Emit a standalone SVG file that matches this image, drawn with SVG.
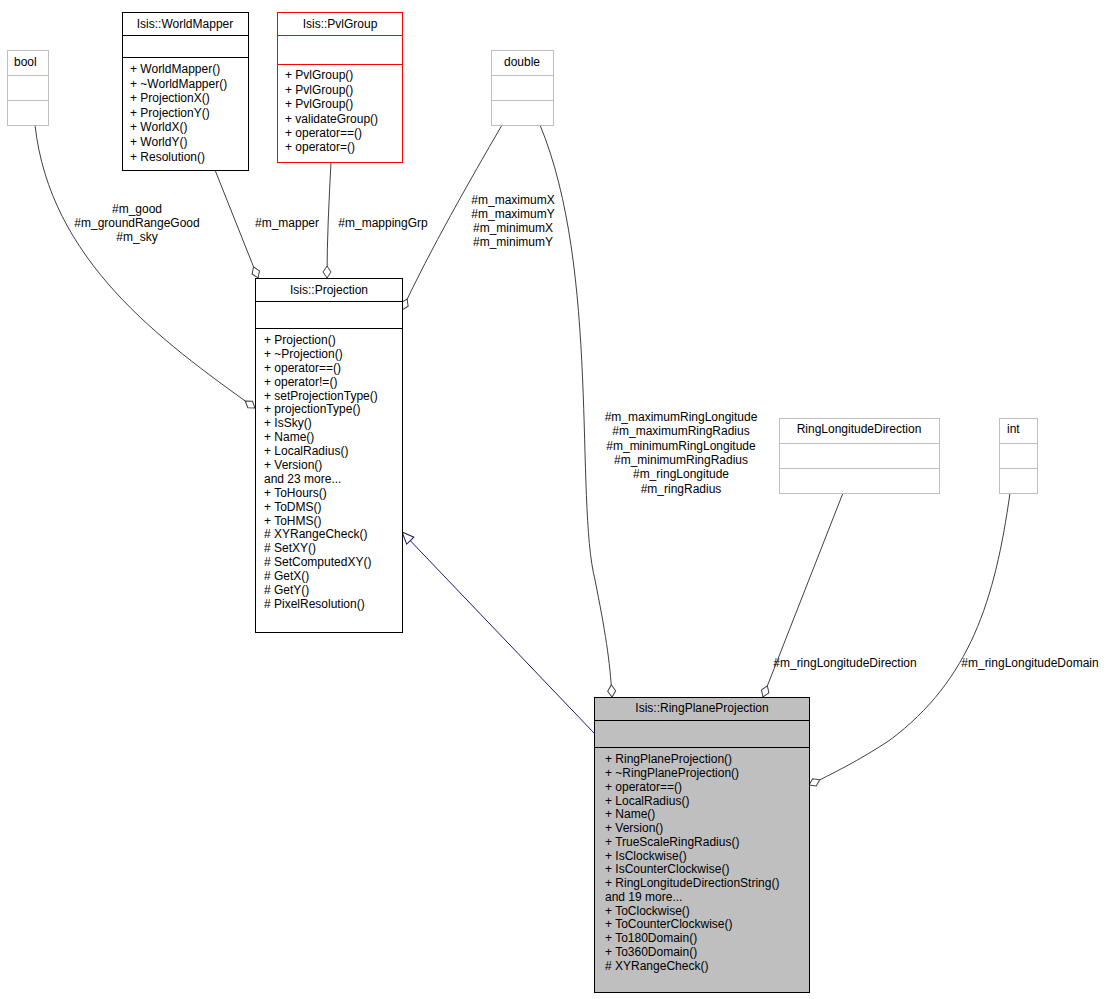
<svg xmlns="http://www.w3.org/2000/svg" width="1114" height="999" viewBox="0 0 1114 999">
<style>
text{font-family:"Liberation Sans",Arial,sans-serif;font-size:12px;fill:#000}
.c{text-anchor:middle}
.n{fill:#fff;stroke:#000;stroke-width:1}
.g{fill:#fff;stroke:#bfbfbf;stroke-width:1}
.r{fill:#fff;stroke:#ff0000;stroke-width:1}
.e{fill:none;stroke:#404040;stroke-width:1}
.i{fill:none;stroke:#191970;stroke-width:1}
</style>
<defs>
<marker id="dia" viewBox="0 0 14 10" refX="13" refY="5" markerWidth="14" markerHeight="10" markerUnits="userSpaceOnUse" orient="auto">
<path d="M1,5 L7,1 L13,5 L7,9 Z" fill="#fff" stroke="#404040"/>
</marker>
<marker id="tri" viewBox="0 0 14 12" refX="13" refY="6" markerWidth="14" markerHeight="12" markerUnits="userSpaceOnUse" orient="auto">
<path d="M1,1 L13,6 L1,11 Z" fill="#fff" stroke="#191970"/>
</marker>
</defs>
<rect width="1114" height="999" fill="#fff"/>
<g id="edges">
<path class="e" d="M35,125 C50,260 160,340 255,408" marker-end="url(#dia)"/>
<text class="c" x="137" y="213">#m_good</text>
<text class="c" x="137" y="227">#m_groundRangeGood</text>
<text class="c" x="137" y="241">#m_sky</text>
<path class="e" d="M215,170 L258,278" marker-end="url(#dia)"/>
<text class="c" x="287" y="227">#m_mapper</text>
<path class="e" d="M331,162 C329,200 327,240 327,278" marker-end="url(#dia)"/>
<text class="c" x="383" y="227">#m_mappingGrp</text>
<path class="e" d="M502,125 C470,180 430,250 402,310" marker-end="url(#dia)"/>
<text class="c" x="513" y="204">#m_maximumX</text>
<text class="c" x="513" y="218">#m_maximumY</text>
<text class="c" x="513" y="232">#m_minimumX</text>
<text class="c" x="513" y="246">#m_minimumY</text>
<path class="e" d="M540,125 C600,270 575,500 595,580 C605,630 610,660 612,697" marker-end="url(#dia)"/>
<text class="c" x="681" y="421">#m_maximumRingLongitude</text>
<text class="c" x="681" y="435">#m_maximumRingRadius</text>
<text class="c" x="681" y="450">#m_minimumRingLongitude</text>
<text class="c" x="681" y="464">#m_minimumRingRadius</text>
<text class="c" x="681" y="478">#m_ringLongitude</text>
<text class="c" x="681" y="493">#m_ringRadius</text>
<path class="i" d="M594,733 L402,532" marker-end="url(#tri)"/>
<path class="e" d="M843,493 L763,697" marker-end="url(#dia)"/>
<text class="c" x="845" y="667">#m_ringLongitudeDirection</text>
<path class="e" d="M1010,493 C995,600 970,680 890,740 C860,760 830,775 809,785" marker-end="url(#dia)"/>
<text class="c" x="1030" y="667">#m_ringLongitudeDomain</text>
</g>
<g id="bool"><rect class="g" x="7.5" y="50.5" width="41" height="75"/><line class="g" x1="7.5" y1="75.5" x2="48.5" y2="75.5"/><line class="g" x1="7.5" y1="100.5" x2="48.5" y2="100.5"/><text x="14" y="66">bool</text></g>
<g id="worldmapper"><rect class="n" x="122.5" y="12.5" width="126" height="158"/><line class="n" x1="122.5" y1="35.5" x2="248.5" y2="35.5"/><line class="n" x1="122.5" y1="57.5" x2="248.5" y2="57.5"/>
<text class="c" x="185" y="28">Isis::WorldMapper</text>
<text x="130" y="73">+ WorldMapper()</text><text x="130" y="88">+ ~WorldMapper()</text><text x="130" y="102">+ ProjectionX()</text><text x="130" y="117">+ ProjectionY()</text><text x="130" y="131">+ WorldX()</text><text x="130" y="146">+ WorldY()</text><text x="130" y="161">+ Resolution()</text></g>
<g id="pvlgroup"><rect class="r" x="277.5" y="12.5" width="125" height="150"/><line class="r" x1="277.5" y1="35.5" x2="402.5" y2="35.5"/><line class="r" x1="277.5" y1="64.5" x2="402.5" y2="64.5"/>
<text class="c" x="340" y="28">Isis::PvlGroup</text>
<text x="285" y="79">+ PvlGroup()</text><text x="285" y="94">+ PvlGroup()</text><text x="285" y="108">+ PvlGroup()</text><text x="285" y="123">+ validateGroup()</text><text x="285" y="137">+ operator==()</text><text x="285" y="151">+ operator=()</text></g>
<g id="double"><rect class="g" x="491.5" y="50.5" width="62" height="75"/><line class="g" x1="491.5" y1="75.5" x2="553.5" y2="75.5"/><line class="g" x1="491.5" y1="100.5" x2="553.5" y2="100.5"/><text class="c" x="522" y="66">double</text></g>
<g id="projection"><rect class="n" x="255.5" y="278.5" width="147" height="354"/><line class="n" x1="255.5" y1="301.5" x2="402.5" y2="301.5"/><line class="n" x1="255.5" y1="328.5" x2="402.5" y2="328.5"/>
<text class="c" x="329" y="294">Isis::Projection</text>
<text x="264" y="344">+ Projection()</text><text x="264" y="358">+ ~Projection()</text><text x="264" y="372">+ operator==()</text><text x="264" y="386">+ operator!=()</text><text x="264" y="400">+ setProjectionType()</text><text x="264" y="413">+ projectionType()</text><text x="264" y="427">+ IsSky()</text><text x="264" y="441">+ Name()</text><text x="264" y="455">+ LocalRadius()</text><text x="264" y="469">+ Version()</text><text x="264" y="483">and 23 more...</text><text x="264" y="497">+ ToHours()</text><text x="264" y="511">+ ToDMS()</text><text x="264" y="525">+ ToHMS()</text><text x="264" y="538">#  XYRangeCheck()</text><text x="264" y="552">#  SetXY()</text><text x="264" y="566">#  SetComputedXY()</text><text x="264" y="580">#  GetX()</text><text x="264" y="594">#  GetY()</text><text x="264" y="608">#  PixelResolution()</text>
<text x="264" y="622"></text></g>
<g id="rld"><rect class="g" x="779.5" y="418.5" width="160" height="75"/><line class="g" x1="779.5" y1="443.5" x2="939.5" y2="443.5"/><line class="g" x1="779.5" y1="468.5" x2="939.5" y2="468.5"/><text class="c" x="859" y="433">RingLongitudeDirection</text></g>
<g id="int"><rect class="g" x="999.5" y="418.5" width="38" height="75"/><line class="g" x1="999.5" y1="443.5" x2="1037.5" y2="443.5"/><line class="g" x1="999.5" y1="468.5" x2="1037.5" y2="468.5"/><text x="1007" y="433">int</text></g>
<g id="rpp"><rect x="594.5" y="697.5" width="215" height="295" fill="#bfbfbf" stroke="#000"/><line class="n" x1="594.5" y1="720.5" x2="809.5" y2="720.5"/><line class="n" x1="594.5" y1="747.5" x2="809.5" y2="747.5"/>
<text class="c" x="702" y="712">Isis::RingPlaneProjection</text>
<text x="605" y="763">+ RingPlaneProjection()</text><text x="605" y="777">+ ~RingPlaneProjection()</text><text x="605" y="791">+ operator==()</text><text x="605" y="805">+ LocalRadius()</text><text x="605" y="818">+ Name()</text><text x="605" y="832">+ Version()</text><text x="605" y="846">+ TrueScaleRingRadius()</text><text x="605" y="860">+ IsClockwise()</text><text x="605" y="873">+ IsCounterClockwise()</text><text x="605" y="887">+ RingLongitudeDirectionString()</text><text x="605" y="901">and 19 more...</text><text x="605" y="915">+ ToClockwise()</text><text x="605" y="928">+ ToCounterClockwise()</text><text x="605" y="942">+ To180Domain()</text><text x="605" y="956">+ To360Domain()</text><text x="605" y="970">#  XYRangeCheck()</text></g>
</svg>
